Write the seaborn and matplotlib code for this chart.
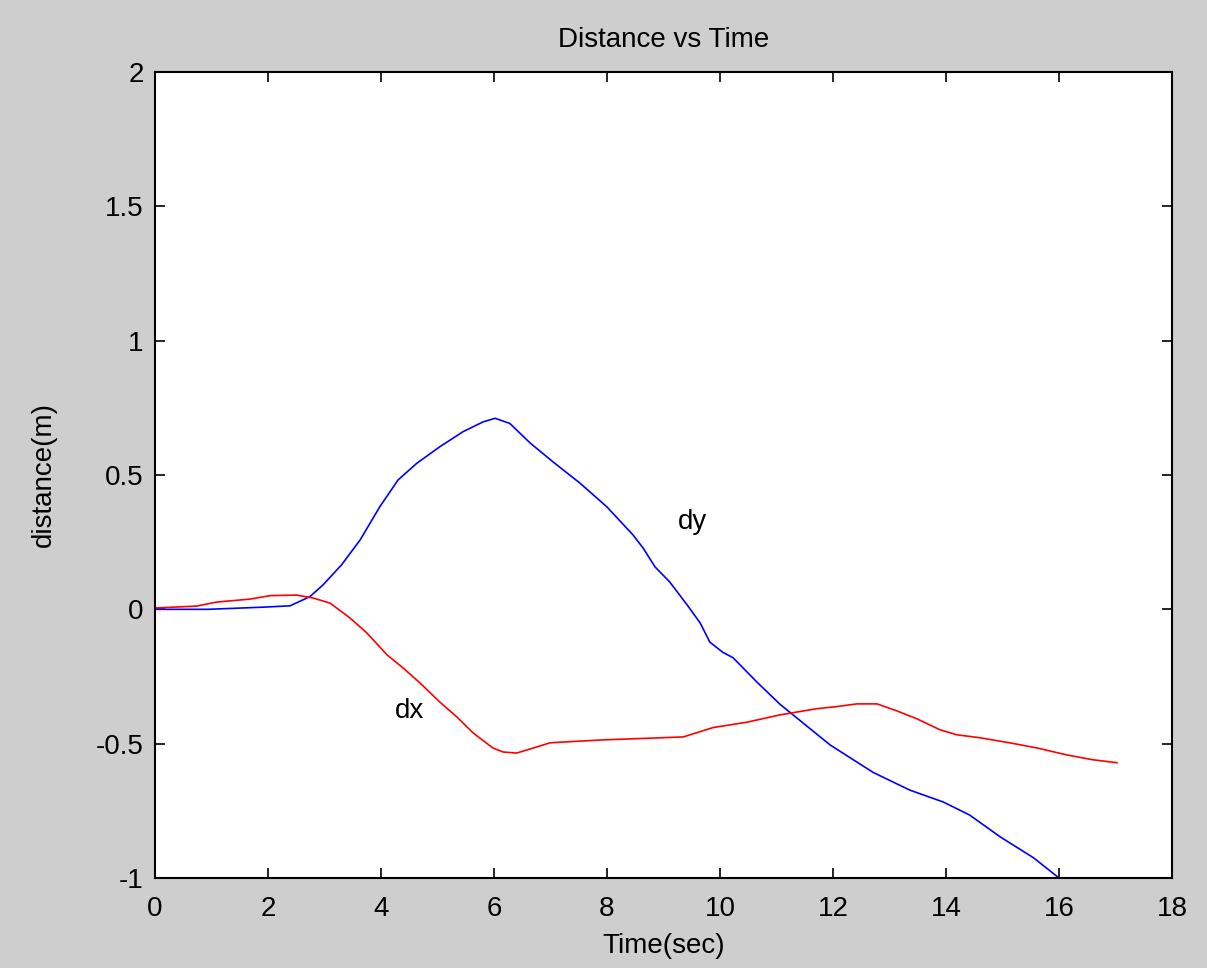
import matplotlib
matplotlib.use("Agg")
import matplotlib.pyplot as plt
import seaborn as sns
import numpy as np

# ---- data ----
t_dy = [0, 0.94, 1.91, 2.39, 2.74, 2.97, 3.30, 3.63, 3.98, 4.30, 4.63, 5.04, 5.45, 5.81,
        6.02, 6.28, 6.64, 7.05, 7.52, 8.0, 8.46, 8.64, 8.85, 9.11, 9.42, 9.65, 9.82,
        10.05, 10.23, 10.65, 11.06, 11.30, 11.95, 12.71, 13.36, 13.95, 14.42, 14.96,
        15.55, 16.0]
dy = [0, 0.0, 0.008, 0.013, 0.047, 0.09, 0.165, 0.258, 0.382, 0.481, 0.543, 0.605, 0.661,
      0.698, 0.711, 0.692, 0.619, 0.548, 0.470, 0.381, 0.277, 0.228, 0.158, 0.102, 0.016,
      -0.051, -0.122, -0.16, -0.18, -0.27, -0.353, -0.394, -0.505, -0.607, -0.673, -0.717,
      -0.766, -0.847, -0.925, -1.0]

t_dx = [0, 0.74, 1.09, 1.68, 2.04, 2.51, 2.80, 3.10, 3.45, 3.75, 4.11, 4.39, 4.69, 5.04,
        5.34, 5.63, 5.98, 6.16, 6.40, 6.70, 6.99, 7.22, 7.93, 8.71, 9.35, 9.88, 10.48,
        11.06, 11.71, 12.07, 12.42, 12.78, 13.13, 13.49, 13.89, 14.19, 14.6, 15.13, 15.61,
        16.14, 16.6, 17.03]
dx = [0.005, 0.012, 0.027, 0.038, 0.051, 0.053, 0.042, 0.023, -0.032, -0.088, -0.17, -0.218,
      -0.274, -0.345, -0.40, -0.46, -0.516, -0.531, -0.535, -0.516, -0.497, -0.494, -0.486,
      -0.48, -0.475, -0.44, -0.42, -0.393, -0.37, -0.362, -0.352, -0.352, -0.378, -0.408,
      -0.448, -0.467, -0.478, -0.497, -0.516, -0.542, -0.56, -0.571]

x_ticks = [0, 2, 4, 6, 8, 10, 12, 14, 16, 18]
y_ticks = [-1, -0.5, 0, 0.5, 1, 1.5, 2]
y_tick_labels = ["-1", "-0.5", "0", "0.5", "1", "1.5", "2"]

sns.set_style("ticks")
plt.rcParams['font.family'] = ['Liberation Sans', 'DejaVu Sans']
plt.rcParams['axes.unicode_minus'] = False
plt.rcParams['text.color'] = 'black'
plt.rcParams['axes.labelcolor'] = 'black'

fig = plt.figure(figsize=(12.07, 9.68), dpi=100, facecolor='#cecece')
ax = fig.add_axes([0.1284, 0.093, 0.8426, 0.8326])
ax.set_facecolor('white')

sns.lineplot(x=t_dy, y=dy, color='#0000ff', lw=1.2, sort=False, estimator=None, ax=ax)
sns.lineplot(x=t_dx, y=dx, color='#ff0000', lw=1.2, sort=False, estimator=None, ax=ax)

ax.text(9.52, 0.325, "dy", fontsize=20, ha='center', va='center', color='black')
ax.text(4.51, -0.38, "dx", fontsize=20, ha='center', va='center', color='black')

ax.set_xlim(0, 18)
ax.set_ylim(-1, 2)
ax.set_xticks(x_ticks)
ax.set_xticklabels([str(v) for v in x_ticks])
ax.set_yticks(y_ticks)
ax.set_yticklabels(y_tick_labels)
ax.tick_params(direction='in', length=7, width=1.2, top=True, right=True,
               labelsize=20, colors='black')
ax.tick_params(axis='x', pad=13)
ax.tick_params(axis='y', pad=8)
for s in ax.spines.values():
    s.set_visible(True)
    s.set_color('black')
    s.set_linewidth(1.5)

ax.set_title("Distance vs Time", fontsize=20, pad=18, color='black')
ax.set_xlabel("Time(sec)", fontsize=20, labelpad=8, color='black')
ax.set_ylabel("distance(m)", fontsize=20, labelpad=28, color='black')

fig.savefig("out.png", dpi=100, facecolor=fig.get_facecolor())
